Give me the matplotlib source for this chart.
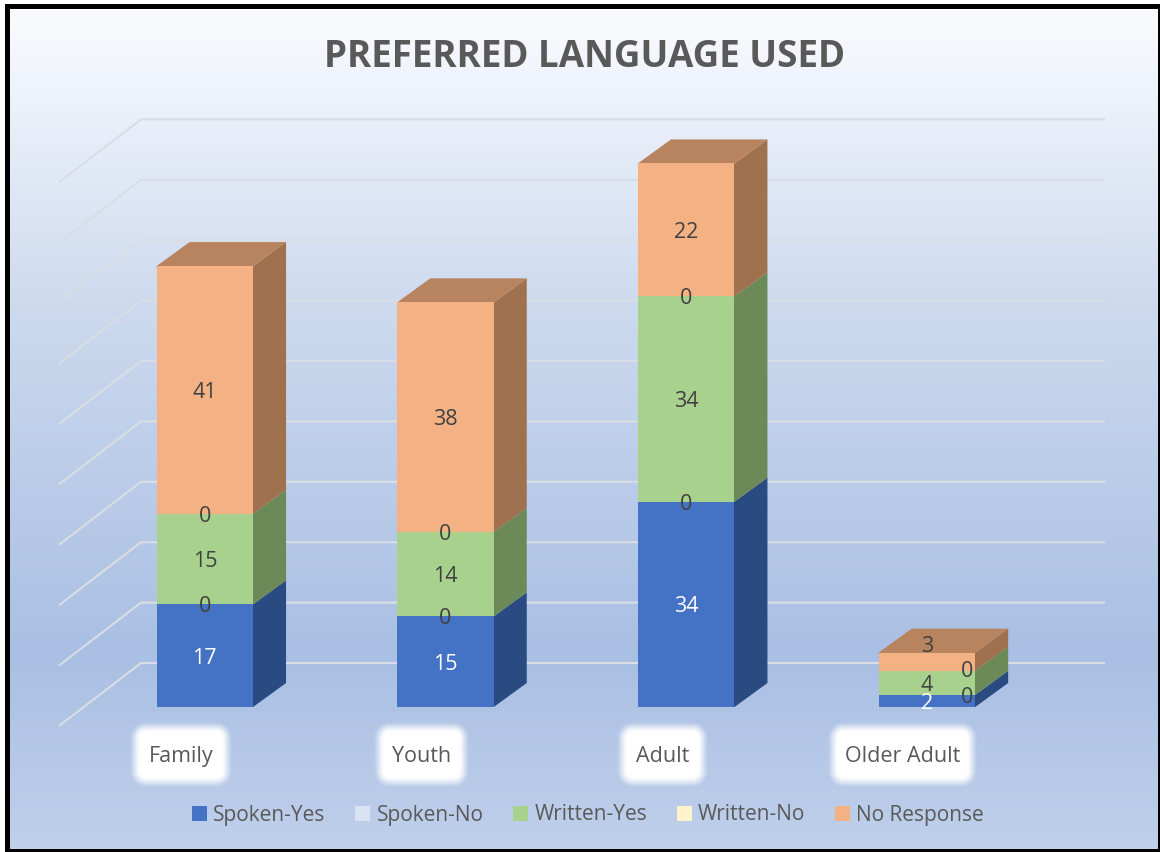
import numpy as np
import matplotlib
matplotlib.use('Agg')
import matplotlib.pyplot as plt
from matplotlib.patches import Polygon, Patch, Rectangle

plt.rcParams['font.family'] = ['Open Sans', 'DejaVu Sans']

categories = ['Family', 'Youth', 'Adult', 'Older Adult']
series_names = ['Spoken-Yes', 'Spoken-No', 'Written-Yes', 'Written-No', 'No Response']
spoken_yes = [17, 15, 34, 2]
spoken_no = [0, 0, 0, 0]
written_yes = [15, 14, 34, 4]
written_no = [0, 0, 0, 0]
no_response = [41, 38, 22, 3]
grid_values = [0, 10, 20, 30, 40, 50, 60, 70, 80, 90]

series = [spoken_yes, spoken_no, written_yes, written_no, no_response]
front_cols = ['#4472c4', '#dae3f3', '#a9d18e', '#fff2cc', '#f4b183']
side_cols = ['#2a4a82', '#8e94a0', '#6c8a57', '#a69d85', '#a0714f']
top_col = '#b8845f'
label_cols = ['white', '#404040', '#404040', '#404040', '#404040']

W, H = 1160, 852
fig = plt.figure(figsize=(W / 100, H / 100), dpi=100)

# pixel scales of the front plane of the bars
px_cat = 240.7
px_val = 6.04
x0_px, y0_px = 204.8, 707

ax = fig.add_axes([0, 0, 1, 1])
xlim = (-x0_px / px_cat, (W - x0_px) / px_cat)
ylim = ((y0_px - H) / px_val, y0_px / px_val)
ax.axis('off')

# background gradient, white-ish top to blue, slightly lighter at the bottom
stops_y = [0, 0.08, 0.35, 0.77, 1]
stops_r = [250, 240, 205, 169, 192]
stops_g = [251, 244, 218, 191, 208]
stops_b = [253, 252, 238, 227, 235]
yy = np.linspace(0, 1, 256)
grad = np.dstack([np.interp(yy, stops_y, stops_r),
                  np.interp(yy, stops_y, stops_g),
                  np.interp(yy, stops_y, stops_b)]).reshape(256, 1, 3) / 255
ax.imshow(grad, extent=(10 / W, 1158 / W, 1 - 849 / H, 1 - 9 / H), transform=ax.transAxes,
          aspect='auto', origin='upper', zorder=0)

# frame: heavy black on left, top and bottom, thin on the right
for box in [(5, 4, 5, 848), (5, 4, 1154, 5), (5, 849, 1154, 3), (1158, 4, 1.5, 848)]:
    ax.add_patch(Rectangle((box[0] / W, 1 - (box[1] + box[3]) / H), box[2] / W, box[3] / H,
                           transform=ax.transAxes, fc='black', ec='none', zorder=1))

# walls: depth of the chart floor and of the bars, in data units
back_dx, back_dy = (141 - 59) / px_cat, (726 - 663) / px_val
wall_x = (59 - x0_px) / px_cat
wall_y = (707 - 726) / px_val
right_x = (1105 - x0_px) / px_cat
bar_dx, bar_dy = 33 / px_cat, 24 / px_val
bar_w = 96.5 / px_cat

for v in grid_values:
    ax.plot([wall_x, wall_x + back_dx, right_x],
            [wall_y + v, wall_y + back_dy + v, wall_y + back_dy + v],
            color='#d9dde4', lw=1.5, zorder=2, solid_capstyle='butt')

x = np.arange(len(categories))
bottom = np.zeros(len(categories))
for s, vals in enumerate(series):
    vals = np.array(vals, dtype=float)
    ax.bar(x, vals, bar_w, bottom=bottom, color=front_cols[s], zorder=4)
    for i in x:
        xr = i + bar_w / 2
        b, t = bottom[i], bottom[i] + vals[i]
        if vals[i] > 0:
            # start a bit under the front face so no seam shows
            ax.add_patch(Polygon([(xr - 0.008, b), (xr, b), (xr + bar_dx, b + bar_dy), (xr + bar_dx, t + bar_dy),
                                  (xr, t), (xr - 0.008, t)],
                                 fc=side_cols[s], ec='none', zorder=3.5))
    bottom += vals

for i in x:
    xl, xr = i - bar_w / 2, i + bar_w / 2
    t = bottom[i]
    ax.add_patch(Polygon([(xl, t - 0.3), (xr, t - 0.3), (xr, t), (xr + bar_dx, t + bar_dy), (xl + bar_dx, t + bar_dy), (xl, t)],
                         fc=top_col, ec='none', zorder=3.5))

# value labels, Older Adult ones were dragged around by hand in the original
label_dx = {(3, 1): 0.166, (3, 3): 0.166}
label_dy = {(3, 3): 0.2, (3, 4): 2.9}
bottom = np.zeros(len(categories))
for s, vals in enumerate(series):
    for i, v in enumerate(vals):
        ax.text(i + label_dx.get((i, s), 0), bottom[i] + v / 2 + label_dy.get((i, s), 0) - 0.4, str(v),
                ha='center', va='center', fontsize=15.5, color=label_cols[s], zorder=6)
    bottom += np.array(vals, dtype=float)

# category labels with soft white glow
cat_y = (707 - 755) / px_val
glow_size = [(51, 33), (48, 33), (46, 33), (75, 33)]
for i, name in enumerate(categories):
    cx = i - 0.1
    hw, hh = glow_size[i]
    # rounded box distance in pixels, fades out over the outer 12 px
    gx, gy = np.meshgrid(np.arange(-hw - 2, hw + 3), np.arange(-hh - 2, hh + 3))
    dx_ = np.maximum(np.abs(gx) - (hw - 16), 0)
    dy_ = np.maximum(np.abs(gy) - (hh - 16), 0)
    dist = np.hypot(dx_, dy_)
    a = np.clip((17 - dist) / 12, 0, 1)
    a = a * a * (3 - 2 * a)
    rgba = np.ones(a.shape + (4,))
    rgba[..., 3] = a
    ax.imshow(rgba, extent=(cx - (hw + 2.5) / px_cat, cx + (hw + 2.5) / px_cat,
                            cat_y - (hh + 2.5) / px_val, cat_y + (hh + 2.5) / px_val),
              aspect='auto', origin='upper', zorder=3, interpolation='bilinear')
    ax.text(cx, cat_y - 0.3, name, ha='center', va='center', fontsize=15.5, color='#595959', zorder=6)

ax.text((585 - x0_px) / px_cat, (707 - 57) / px_val, 'PREFERRED LANGUAGE USED', ha='center', va='center',
        fontsize=26.5, fontweight='bold', color='#595959', zorder=6)

handles = [Patch(fc=c, ec='none') for c in front_cols]
leg = ax.legend(handles, series_names, ncol=5, frameon=False, loc='center',
                bbox_to_anchor=(588 / W, 1 - 815 / H), bbox_transform=ax.transAxes,
                fontsize=15, labelcolor='#595959', handlelength=0.72, handleheight=0.72,
                handletextpad=0.3, columnspacing=1.42)
leg.set_zorder(6)

ax.set_xlim(*xlim)
ax.set_ylim(*ylim)

fig.savefig('out.png', dpi=100, facecolor='white')
